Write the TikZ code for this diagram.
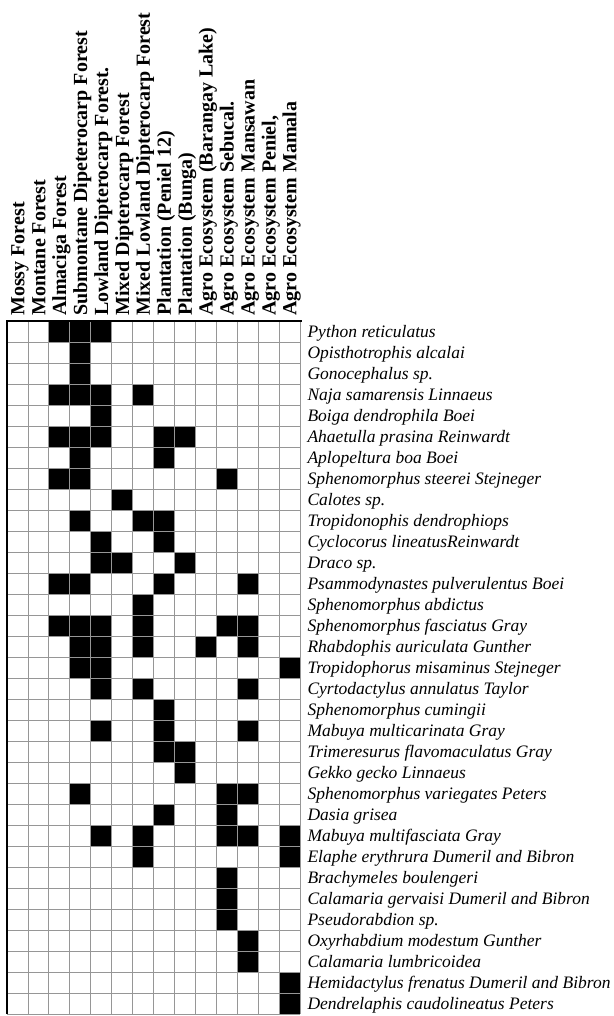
\documentclass[tikz,border=0pt]{standalone}
\usepackage{fontspec}
\setmainfont{Liberation Serif}
\usetikzlibrary{positioning}
\definecolor{gridgray}{RGB}{150,150,150}

\begin{document}
\begin{tikzpicture}[x=1pt,y=-1pt,
	habitat/.style={rotate=90,anchor=base west,inner sep=0pt,font=\fontsize{20}{20}\selectfont\bfseries},
	species/.style={anchor=base west,inner sep=0pt,font=\fontsize{17.5}{18}\selectfont\itshape},
	present/.style={fill=black},
	gridline/.style={gridgray,line width=0.8pt}]
				\useasboundingbox (0,0) rectangle (613,1016);
				\begin{scope}[shift={(7,321)},x=20.93pt,y=-21pt]
				% cells where the species was found
				\foreach \c/\r in {3/1,4/1,5/1, 4/2, 4/3, 3/4,4/4,5/4,7/4, 5/5,
					3/6,4/6,5/6,8/6,9/6, 4/7,8/7, 3/8,4/8,11/8, 6/9, 4/10,7/10,8/10,
					5/11,8/11, 5/12,6/12,9/12, 3/13,4/13,8/13,12/13, 7/14,
					3/15,4/15,5/15,7/15,11/15,12/15, 4/16,5/16,7/16,10/16,12/16,
					4/17,5/17,14/17, 5/18,7/18,12/18, 8/19, 5/20,8/20,12/20,
					8/21,9/21, 9/22, 4/23,11/23,12/23, 8/24,11/24,
					5/25,7/25,11/25,12/25,14/25, 7/26,14/26, 11/27, 11/28, 11/29,
					12/30, 12/31, 14/32, 14/33}
					\fill[present] (\c-1,\r-1) rectangle (\c,\r);
				\foreach \i in {1,...,14}
					\draw[gridline] (\i,0) -- (\i,33);
				\foreach \j in {1,...,33}
					\draw[gridline] (0,\j) -- (14,\j);
				\draw[line width=1.8pt] (0,33) -- (0,0) -- (14.1,0);
				% habitats
				\node[habitat] (h1) at (0.83,-0.24) {Mossy Forest};
				\node[habitat] (h2) at (1.83,-0.24) {Montane Forest};
				\node[habitat] (h3) at (2.83,-0.24) {Almaciga Forest};
				\node[habitat] (h4) at (3.83,-0.24) {Submontane Dipeterocarp Forest};
				\node[habitat] (h5) at (4.83,-0.24) {Lowland Dipterocarp Forest.};
				\node[habitat] (h6) at (5.83,-0.24) {Mixed Dipterocarp Forest};
				\node[habitat] (h7) at (6.83,-0.24) {Mixed Lowland Dipterocarp Forest};
				\node[habitat] (h8) at (7.83,-0.24) {Plantation (Peniel 12)};
				\node[habitat] (h9) at (8.83,-0.24) {Plantation (Bunga)};
				\node[habitat] (h10) at (9.83,-0.24) {Agro Ecosystem (Barangay Lake)};
				\node[habitat] (h11) at (10.83,-0.24) {Agro Ecosystem Sebucal.};
				\node[habitat] (h12) at (11.83,-0.24) {Agro Ecosystem Mansawan};
				\node[habitat] (h13) at (12.83,-0.24) {Agro Ecosystem Peniel,};
				\node[habitat] (h14) at (13.83,-0.24) {Agro Ecosystem Mamala};
				% species
				\node[species] (s1) at (14.35,0.77) {Python reticulatus};
				\node[species] (s2) at (14.35,1.77) {Opisthotrophis alcalai};
				\node[species] (s3) at (14.35,2.77) {Gonocephalus sp.};
				\node[species] (s4) at (14.35,3.77) {Naja samarensis Linnaeus};
				\node[species] (s5) at (14.35,4.77) {Boiga dendrophila Boei};
				\node[species] (s6) at (14.35,5.77) {Ahaetulla prasina Reinwardt};
				\node[species] (s7) at (14.35,6.77) {Aplopeltura boa Boei};
				\node[species] (s8) at (14.35,7.77) {Sphenomorphus steerei Stejneger};
				\node[species] (s9) at (14.35,8.77) {Calotes sp.};
				\node[species] (s10) at (14.35,9.77) {Tropidonophis dendrophiops};
				\node[species] (s11) at (14.35,10.77) {Cyclocorus lineatusReinwardt};
				\node[species] (s12) at (14.35,11.77) {Draco sp.};
				\node[species] (s13) at (14.35,12.77) {Psammodynastes pulverulentus Boei};
				\node[species] (s14) at (14.35,13.77) {Sphenomorphus abdictus};
				\node[species] (s15) at (14.35,14.77) {Sphenomorphus fasciatus Gray};
				\node[species] (s16) at (14.35,15.77) {Rhabdophis auriculata Gunther};
				\node[species] (s17) at (14.35,16.77) {Tropidophorus misaminus Stejneger};
				\node[species] (s18) at (14.35,17.77) {Cyrtodactylus annulatus Taylor};
				\node[species] (s19) at (14.35,18.77) {Sphenomorphus cumingii};
				\node[species] (s20) at (14.35,19.77) {Mabuya multicarinata Gray};
				\node[species] (s21) at (14.35,20.77) {Trimeresurus flavomaculatus Gray};
				\node[species] (s22) at (14.35,21.77) {Gekko gecko Linnaeus};
				\node[species] (s23) at (14.35,22.77) {Sphenomorphus variegates Peters};
				\node[species] (s24) at (14.35,23.77) {Dasia grisea};
				\node[species] (s25) at (14.35,24.77) {Mabuya multifasciata Gray};
				\node[species] (s26) at (14.35,25.77) {Elaphe erythrura Dumeril and Bibron};
				\node[species] (s27) at (14.35,26.77) {Brachymeles boulengeri};
				\node[species] (s28) at (14.35,27.77) {Calamaria gervaisi Dumeril and Bibron};
				\node[species] (s29) at (14.35,28.77) {Pseudorabdion sp.};
				\node[species] (s30) at (14.35,29.77) {Oxyrhabdium modestum Gunther};
				\node[species] (s31) at (14.35,30.77) {Calamaria lumbricoidea};
				\node[species] (s32) at (14.35,31.77) {Hemidactylus frenatus Dumeril and Bibron};
				\node[species] (s33) at (14.35,32.77) {Dendrelaphis caudolineatus Peters};
				\end{scope}
				\end{tikzpicture}
\end{document}
